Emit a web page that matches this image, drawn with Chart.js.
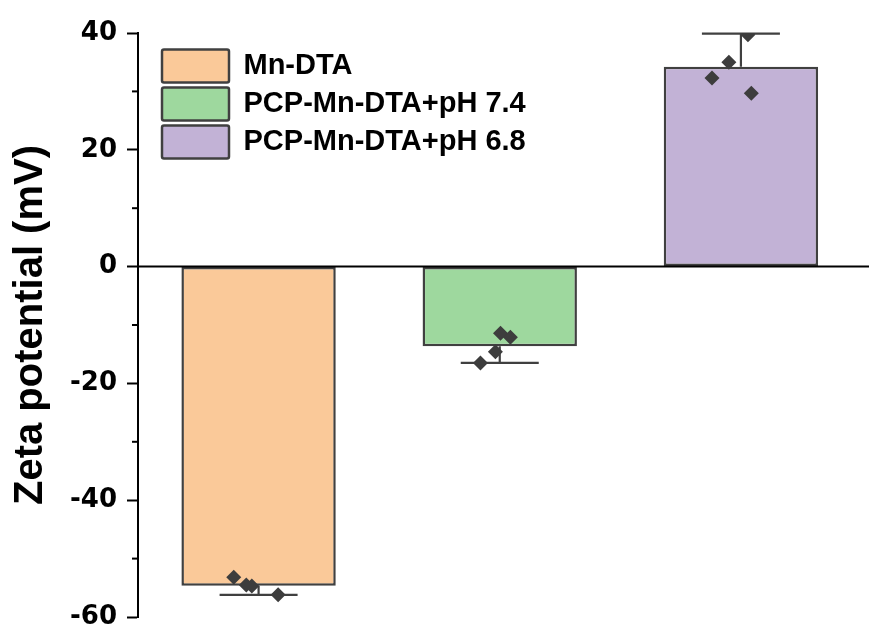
<!DOCTYPE html>
<html>
<head>
<meta charset="utf-8">
<title>Zeta potential</title>
<script src="https://cdn.jsdelivr.net/npm/chart.js@4.4.1/dist/chart.umd.min.js"></script>
<style>
  body { margin: 0; background: #fff; }
  canvas { display: block; }
</style>
</head>
<body>
<canvas id="myChart" width="869" height="630"></canvas>
<script>
const categories = ['Mn-DTA', 'PCP-Mn-DTA+pH 7.4', 'PCP-Mn-DTA+pH 6.8']
const means = [-54.65, -13.65, 34.2]
const errors = [1.55, 2.85, 5.7]   // drawn one-sided, away from zero
const colors = ['#FAC999', '#9ED89E', '#C2B2D6']

// single measurements per group, with their horizontal jitter (in categories)
const replicates = [
    [-53.2, -54.5, -54.7, -56.2],
    [-11.4, -12.1, -14.6, -16.5],
    [39.7, 35.0, 32.3, 29.7]
]
const jitter = [
    [-0.103, -0.051, -0.028, 0.081],
    [0.003, 0.044, -0.018, -0.080],
    [0.029, -0.050, -0.120, 0.043]
]

const yMin = -60
const yMax = 40
const yStep = 20

const edge = '#404040'

const barSets = categories.map((name, i) => ({
    type: 'bar',
    label: name,
    data: categories.map((c, j) => j === i ? means[i] : null),
    backgroundColor: colors[i],
    borderColor: edge,
    borderWidth: 2.5,
    borderSkipped: false,
    borderRadius: 0,
    grouped: false,
    barPercentage: 0.64,
    categoryPercentage: 1,
    xAxisID: 'x',
    order: 2
}))

const points = []
replicates.forEach((vals, i) => {
    vals.forEach((v, k) => points.push({ x: i + jitter[i][k], y: v }))
})

const extras = {
    id: 'extras',
    afterLayout(chart) {
        // move the legend into the top left of the plot, like the original
        const lg = chart.legend
        const h = lg.bottom - lg.top
        lg.left += 19; lg.right += 19
        lg.top = chart.chartArea.top + 11.5
        lg.bottom = lg.top + h
    },
    beforeDatasetsDraw(chart) {
        const { ctx, scales: { x, y } } = chart
        ctx.save()
        ctx.strokeStyle = edge
        ctx.lineWidth = 2.2
        means.forEach((m, i) => {
            const end = m + Math.sign(m) * errors[i]
            const cx = x.getPixelForValue(i)
            const y1 = y.getPixelForValue(m)
            const y2 = y.getPixelForValue(end)
            ctx.beginPath()
            ctx.moveTo(cx, y1)
            ctx.lineTo(cx, y2)
            ctx.moveTo(cx - 39, y2)
            ctx.lineTo(cx + 39, y2)
            ctx.stroke()
        })
        ctx.restore()
    },
    afterDatasetsDraw(chart) {
        const { ctx, chartArea, scales: { y } } = chart
        ctx.save()
        ctx.strokeStyle = '#000'
        ctx.lineWidth = 2
        // zero line runs to the right edge
        const y0 = y.getPixelForValue(0)
        ctx.beginPath()
        ctx.moveTo(chartArea.left, y0)
        ctx.lineTo(chart.width, y0)
        ctx.stroke()
        // minor ticks
        for (let v = yMin + yStep / 2; v < yMax; v += yStep) {
            const py = y.getPixelForValue(v)
            ctx.beginPath()
            ctx.moveTo(chartArea.left - 6, py)
            ctx.lineTo(chartArea.left, py)
            ctx.stroke()
        }
        ctx.restore()
    }
}

const ctx = document.querySelector('#myChart').getContext('2d')

const chart = new Chart(ctx, {
    type: 'bar',
    data: {
        labels: categories,
        datasets: [
            ...barSets,
            {
                type: 'scatter',
                label: 'points',
                data: points,
                xAxisID: 'xs',
                pointStyle: 'rectRot',
                pointRadius: 7.5,
                backgroundColor: '#3d3d3d',
                borderWidth: 0,
                clip: 0,
                order: 1
            }
        ]
    },
    plugins: [extras],
    options: {
        responsive: false,
        animation: false,
        layout: {
            padding: { top: 33, right: 5, bottom: 13, left: 0 }
        },
        plugins: {
            tooltip: { enabled: false },
            legend: {
                position: 'chartArea',
                align: 'start',
                labels: {
                    filter: item => item.datasetIndex < categories.length,
                    boxWidth: 67,
                    boxHeight: 33,
                    padding: 5,
                    useBorderRadius: true,
                    borderRadius: 2,
                    color: '#000',
                    font: { family: '"Liberation Sans", Arial, sans-serif', size: 29, weight: 'bold' }
                }
            }
        },
        scales: {
            x: {
                display: false
            },
            xs: {
                type: 'linear',
                display: false,
                offset: false,
                min: -0.5,
                max: 2.5
            },
            y: {
                min: yMin,
                max: yMax,
                afterFit: scale => { scale.width = 138 },
                ticks: {
                    stepSize: yStep,
                    padding: 10,
                    color: '#000',
                    // small lineHeight so the end labels don't shrink the plot
                    font: { family: '"DejaVu Sans", sans-serif', size: 26, weight: 'bold', lineHeight: 0.2 }
                },
                grid: {
                    drawOnChartArea: false,
                    drawTicks: true,
                    tickLength: 11,
                    tickWidth: 2,
                    tickColor: '#000'
                },
                border: {
                    display: true,
                    width: 2,
                    color: '#000'
                },
                title: {
                    display: true,
                    text: 'Zeta potential (mV)',
                    color: '#000',
                    padding: { top: 7, bottom: 0 },
                    font: { family: '"Liberation Sans", Arial, sans-serif', size: 40, weight: 'bold' }
                }
            }
        }
    }
})
</script>
</body>
</html>
